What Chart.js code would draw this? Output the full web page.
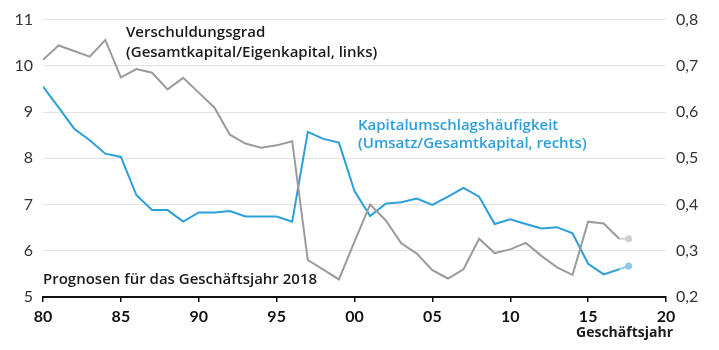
<!DOCTYPE html>
<html>
<head>
<meta charset="utf-8">
<script src="https://cdn.jsdelivr.net/npm/chart.js@4"></script>
<style>
  html, body { margin: 0; padding: 0; background: #fff; }
  #wrap { width: 719px; height: 350px; position: relative; }
</style>
</head>
<body>
<div id="wrap"><canvas id="chart"></canvas></div>
<script>
// Geschäftsjahre 1980 - 2017
const years = [1980, 1981, 1982, 1983, 1984, 1985, 1986, 1987, 1988, 1989,
               1990, 1991, 1992, 1993, 1994, 1995, 1996, 1997, 1998, 1999,
               2000, 2001, 2002, 2003, 2004, 2005, 2006, 2007, 2008, 2009,
               2010, 2011, 2012, 2013, 2014, 2015, 2016, 2017];

// Verschuldungsgrad (links)
const leverage = [10.13, 10.44, 10.32, 10.20, 10.56, 9.75, 9.93, 9.85, 9.49, 9.74,
                  9.42, 9.10, 8.51, 8.32, 8.23, 8.28, 8.37, 5.80, 5.59, 5.38,
                  6.20, 7.00, 6.66, 6.16, 5.94, 5.58, 5.40, 5.60, 6.26, 5.95,
                  6.03, 6.17, 5.89, 5.64, 5.48, 6.63, 6.59, 6.26];

// Kapitalumschlagshäufigkeit (rechts)
const turnover = [0.655, 0.610, 0.564, 0.539, 0.510, 0.503, 0.420, 0.388, 0.388, 0.363,
                  0.383, 0.383, 0.386, 0.374, 0.374, 0.374, 0.363, 0.557, 0.542, 0.534,
                  0.429, 0.375, 0.402, 0.405, 0.413, 0.399, 0.417, 0.436, 0.417, 0.358,
                  0.368, 0.358, 0.348, 0.351, 0.338, 0.272, 0.249, 0.260];

// Prognose Geschäftsjahr 2018
const forecastX = 2017.6;
const leverageForecast = 6.26;
const turnoverForecast = 0.267;

const xTicks = [1980, 1985, 1990, 1995, 2000, 2005, 2010, 2015, 2020];
const leftTicks = [5, 6, 7, 8, 9, 10, 11];
const rightTicks = [0.2, 0.3, 0.4, 0.5, 0.6, 0.7, 0.8];

const GRAY = "#9b9b9b";
const GRAY_LIGHT = "#cfcfcf";
const BLUE = "#2b9fd9";
const BLUE_LIGHT = "#8ec8e8";
const FONT = "Lato, 'Open Sans', sans-serif";
const NOTE_FONT = "600 15px 'Open Sans', sans-serif";

const pts = (vals) => years.map((y, i) => ({ x: y, y: vals[i] }));
const last = years.length - 1;

const textPlugin = {
    id: "texts",
    afterDraw(chart){
        const c = chart.ctx;
        c.save();
        c.textBaseline = "alphabetic";
        c.textAlign = "left";
        c.font = NOTE_FONT;
        c.fillStyle = "#1a1a1a";
        c.fillText("Verschuldungsgrad", 126, 37);
        c.fillText("(Gesamtkapital/Eigenkapital, links)", 126, 57);
        c.fillText("Prognosen für das Geschäftsjahr 2018", 43, 284);
        c.fillStyle = BLUE;
        c.fillText("Kapitalumschlagshäufigkeit", 358, 130);
        c.fillText("(Umsatz/Gesamtkapital, rechts)", 358, 148);
        c.fillStyle = "#1a1a1a";
        c.font = "bold 14px 'Open Sans', sans-serif";
        c.textAlign = "right";
        c.fillText("Geschäftsjahr", 673, 337);
        c.restore();
    }
};

new Chart(document.getElementById("chart"), {
    type: "line",
    data: {
        datasets: [
            {
                data: pts(leverage), yAxisID: "yL",
                borderColor: GRAY, borderWidth: 2, pointRadius: 0, tension: 0
            },
            {
                data: pts(turnover), yAxisID: "yR",
                borderColor: BLUE, borderWidth: 2, pointRadius: 0, tension: 0
            },
            {
                data: [{ x: years[last], y: leverage[last] }, { x: forecastX, y: leverageForecast }],
                yAxisID: "yL", borderColor: GRAY_LIGHT, borderWidth: 2,
                pointRadius: [0, 3.5], pointBackgroundColor: GRAY_LIGHT, pointBorderWidth: 0
            },
            {
                data: [{ x: years[last], y: turnover[last] }, { x: forecastX, y: turnoverForecast }],
                yAxisID: "yR", borderColor: BLUE_LIGHT, borderWidth: 2,
                pointRadius: [0, 3.5], pointBackgroundColor: BLUE_LIGHT, pointBorderWidth: 0
            }
        ]
    },
    options: {
        responsive: true,
        maintainAspectRatio: false,
        animation: false,
        layout: { padding: { top: 16, left: 0, right: 0, bottom: 0 } },
        plugins: { legend: { display: false }, tooltip: { enabled: false } },
        scales: {
            x: {
                type: "linear", min: 1980, max: 2020,
                afterFit(s){ s.height = 53; },
                afterBuildTicks(s){ s.ticks = xTicks.map(v => ({ value: v })); },
                grid: { drawOnChartArea: false, drawTicks: true, tickLength: 5, color: "#111", lineWidth: 1.5 },
                border: { display: true, color: "#111", width: 2 },
                ticks: {
                    padding: 5, color: "#111",
                    font: { family: FONT, size: 16, weight: "bold" },
                    callback: v => String(v % 100).padStart(2, "0")
                }
            },
            yL: {
                position: "left", min: 5, max: 11,
                afterFit(s){ s.width = 43; },
                afterBuildTicks(s){ s.ticks = leftTicks.map(v => ({ value: v })); },
                grid: { color: "#e2e2e2", lineWidth: 1, drawTicks: false },
                border: { display: false },
                ticks: { padding: 10, color: "#333", font: { family: FONT, size: 16 } }
            },
            yR: {
                position: "right", min: 0.2, max: 0.8,
                afterFit(s){ s.width = 53; },
                afterBuildTicks(s){ s.ticks = rightTicks.map(v => ({ value: v })); },
                grid: { drawOnChartArea: false, drawTicks: false },
                border: { display: false },
                ticks: {
                    padding: 10, color: "#333", font: { family: FONT, size: 16 },
                    callback: v => v.toFixed(1).replace(".", ",")
                }
            }
        }
    },
    plugins: [textPlugin]
});
</script>
</body>
</html>
